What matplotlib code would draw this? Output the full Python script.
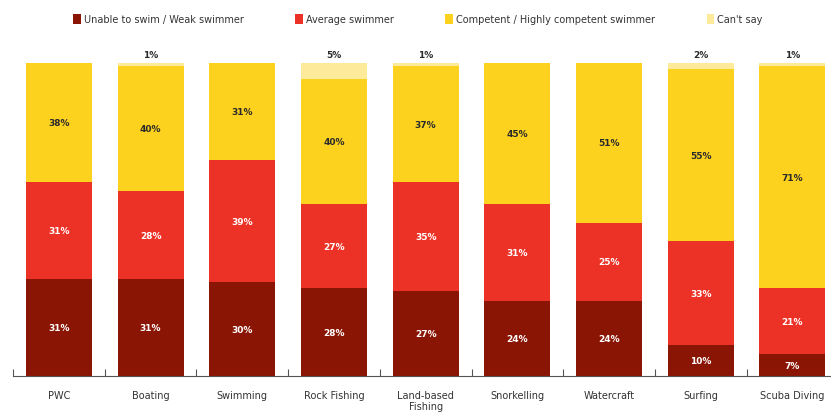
import matplotlib.pyplot as plt
import numpy as np

categories = ["PWC", "Boating", "Swimming", "Rock Fishing", "Land-based\nFishing",
              "Snorkelling", "Watercraft", "Surfing", "Scuba Diving"]
weak = [31, 31, 30, 28, 27, 24, 24, 10, 7]
average = [31, 28, 39, 27, 35, 31, 25, 33, 21]
competent = [38, 40, 31, 40, 37, 45, 51, 55, 71]
cant_say = [0, 1, 0, 5, 1, 0, 0, 2, 1]

series_names = ["Unable to swim / Weak swimmer", "Average swimmer",
                "Competent / Highly competent swimmer", "Can't say"]
colors = ["#8A1505", "#EC3226", "#FDD21F", "#FDEB9B"]
text_colors = ["white", "white", "#2a2a2a", "#2a2a2a"]

fig = plt.figure(figsize=(8.31, 4.14), dpi=100)
ax = fig.add_axes([13/831, 37/414, (831-13)/831, 313/414])

x = np.arange(len(categories))
width = 0.72
series = [weak, average, competent, cant_say]
bottom = np.zeros(len(categories))
handles = []
for i, (vals, c) in enumerate(zip(series, colors)):
    vals = np.array(vals, dtype=float)
    b = ax.bar(x, vals, width, bottom=bottom, color=c, label=series_names[i])
    handles.append(b)
    for xi, v, bt in zip(x, vals, bottom):
        if v <= 0:
            continue
        if i < 3:
            ax.text(xi, bt + v/2, f"{int(v)}%", ha="center", va="center",
                    fontsize=6.5, fontweight="bold", color=text_colors[i])
        else:
            ax.text(xi, bt + v + 1.2, f"{int(v)}%", ha="center", va="bottom",
                    fontsize=6.5, fontweight="bold", color="#2a2a2a")
    bottom += vals

ax.set_xlim(-0.5, 8.42)
ax.set_ylim(0, 100)
for s in ["top", "right", "left"]:
    ax.spines[s].set_visible(False)
ax.spines["bottom"].set_color("#555555")
ax.spines["bottom"].set_linewidth(0.8)
ax.set_yticks([])
ax.set_xticks(x)
ax.set_xticklabels(categories, fontsize=7, color="#333333")
ax.tick_params(axis="x", length=0, pad=10)
ax.set_xticks(np.arange(-0.5, 8.5, 1), minor=True)
ax.tick_params(axis="x", which="minor", direction="in", length=5, color="#555555", width=0.8)

fig.legend(handles=handles, labels=series_names, loc="upper center", ncol=4,
           bbox_to_anchor=(0.503, 0.985), frameon=False, fontsize=7,
           handlelength=0.8, handleheight=1.2, handletextpad=0.3,
           columnspacing=5.3, labelcolor="#333333")

fig.savefig("out.png", dpi=100)
